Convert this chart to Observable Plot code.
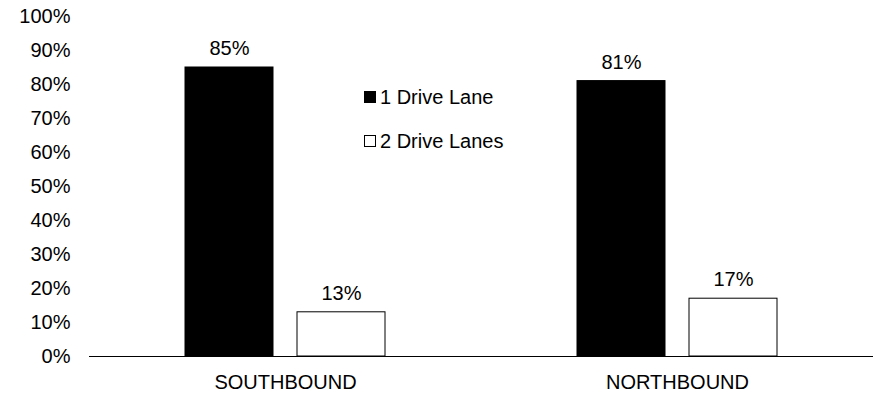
<!DOCTYPE html>
<html>
<head>
<meta charset="utf-8">
<script src="https://cdn.jsdelivr.net/npm/d3@7"></script>
<script src="https://cdn.jsdelivr.net/npm/@observablehq/plot@0.6"></script>
<style>
  body { margin: 0; background: #fff; font-family: Arial, "Liberation Sans", sans-serif; }
  #chart { position: relative; width: 875px; height: 393px; }
  .legend { position: absolute; left: 364px; top: 0; font-size: 20px; color: #000; }
  .legend .item { position: absolute; left: 0; white-space: nowrap; display: flex; align-items: center; height: 24px; }
  .legend .swatch { width: 10px; height: 10px; border: 1px solid #000; box-sizing: content-box; margin-right: 4px; }
</style>
</head>
<body>
<div id="chart"></div>
<script>
// Travel direction groups along the x axis
const directions = ["SOUTHBOUND", "NORTHBOUND"];
// Lane configurations (series)
const laneSeries = ["1 Drive Lane", "2 Drive Lanes"];
const laneColors = ["#000000", "#ffffff"];
// Share of vehicles per direction, in percent
const oneLane = [85, 81];
const twoLanes = [13, 17];
// Y axis ticks (percent)
const yTicks = [0, 10, 20, 30, 40, 50, 60, 70, 80, 90, 100];

const rows = directions.flatMap((dir, i) => [
  { dir, lane: laneSeries[0], value: oneLane[i] },
  { dir, lane: laneSeries[1], value: twoLanes[i] }
]);

const chart = Plot.plot({
  width: 875,
  height: 393,
  marginLeft: 89,
  marginRight: 2,
  marginTop: 16,
  marginBottom: 37,
  style: { fontFamily: "Arial, 'Liberation Sans', sans-serif", fontSize: "20px", color: "#000", background: "#fff" },
  fx: { domain: directions, paddingInner: 0, paddingOuter: 0, label: null, tickSize: 0, tickPadding: 18 },
  x: { domain: laneSeries, paddingInner: 0.214, paddingOuter: 0.857, axis: null },
  y: { domain: [0, 100], ticks: yTicks, tickFormat: d => d + "%", tickSize: 0, tickPadding: 19, label: null },
  color: { domain: laneSeries, range: laneColors },
  marks: [
    Plot.barY(rows, { fx: "dir", x: "lane", y: "value", fill: "lane", stroke: "#000", strokeWidth: 1 }),
    Plot.text(rows, { fx: "dir", x: "lane", y: "value", text: d => d.value + "%", dy: -19, fontSize: 20, fill: "#000" }),
    Plot.ruleY([0], { stroke: "#000", strokeWidth: 1.2 })
  ]
});

const container = document.getElementById("chart");
container.appendChild(chart);

// Legend placed inside the plot area
const legend = document.createElement("div");
legend.className = "legend";
const legendTops = [85, 129];
laneSeries.forEach((name, i) => {
  const item = document.createElement("div");
  item.className = "item";
  item.style.top = legendTops[i] + "px";
  const sw = document.createElement("span");
  sw.className = "swatch";
  sw.style.background = laneColors[i];
  const label = document.createElement("span");
  label.textContent = name;
  item.appendChild(sw);
  item.appendChild(label);
  legend.appendChild(item);
});
container.appendChild(legend);
</script>
</body>
</html>
